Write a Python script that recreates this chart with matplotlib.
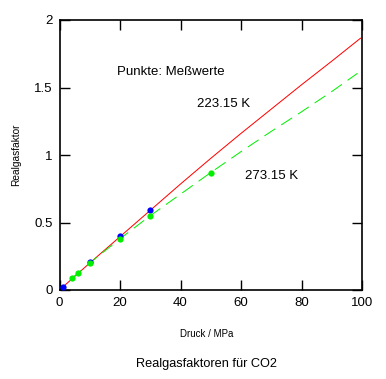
import matplotlib
matplotlib.use("Agg")
import matplotlib.pyplot as plt

# Measured points
p_223 = [1, 10, 20, 30]
z_223 = [0.02, 0.205, 0.40, 0.59]
p_273 = [4, 6, 10, 20, 30, 50]
z_273 = [0.09, 0.125, 0.20, 0.38, 0.55, 0.87]

# Curves
cx_223 = [1, 10, 20, 30, 40, 50, 60, 70, 80, 90, 99.5]
cy_223 = [0.02, 0.20, 0.395, 0.59, 0.785, 0.975, 1.16, 1.34, 1.52, 1.695, 1.865]
cx_273 = [4, 10, 20, 30, 40, 50, 60, 70, 80, 90, 98.5]
cy_273 = [0.085, 0.20, 0.38, 0.55, 0.71, 0.87, 1.025, 1.175, 1.32, 1.47, 1.605]

xticks = [0, 20, 40, 60, 80, 100]
yticks = [0, 0.5, 1, 1.5, 2]
yticklabels = ["0", "0.5", "1", "1.5", "2"]

plt.rcParams['font.family'] = ['Liberation Sans', 'DejaVu Sans']

fig = plt.figure(figsize=(3.86, 3.79), dpi=100)
ax = fig.add_axes([59.5/386, 89/379, (362-59.5)/386, (290-20)/379])

lw = 0.72
ax.plot(cx_223, cy_223, color='#ff0000', lw=lw, zorder=2)
ax.plot(cx_273, cy_273, color='#00f000', lw=lw, dashes=(13, 7), zorder=2)
ax.plot(p_223, z_223, 'o', color='#0000ff', ms=4.5, mec='none', zorder=3)
ax.plot(p_273, z_273, 'o', color='#00f000', ms=4.5, mec='none', zorder=4)

ax.set_xlim(0, 100)
ax.set_ylim(0, 2)
ax.set_xticks(xticks)
ax.set_yticks(yticks)
ax.set_yticklabels(yticklabels)
ax.tick_params(direction='in', length=7, width=1, top=True, right=True,
               labelsize=9.5, pad=5)
for s in ax.spines.values():
    s.set_linewidth(1.2)

ax.text(19, 1.615, "Punkte: Meßwerte", fontsize=9.5, va='center', ha='left')
ax.text(45.5, 1.378, "223.15 K", fontsize=9.5, va='center', ha='left')
ax.text(61.3, 0.845, "273.15 K", fontsize=9.5, va='center', ha='left')

fig.text(207/386, 1 - 334/379, "Druck / MPa", fontsize=7, ha='center', va='center')
fig.text(16/386, 1 - 155/379, "Realgasfaktor", fontsize=7.3, ha='center', va='center',
         rotation=90)
fig.text(207/386, 1 - 364/379, "Realgasfaktoren für CO2", fontsize=9.2,
         ha='center', va='center')

fig.savefig("out.png", dpi=100)
